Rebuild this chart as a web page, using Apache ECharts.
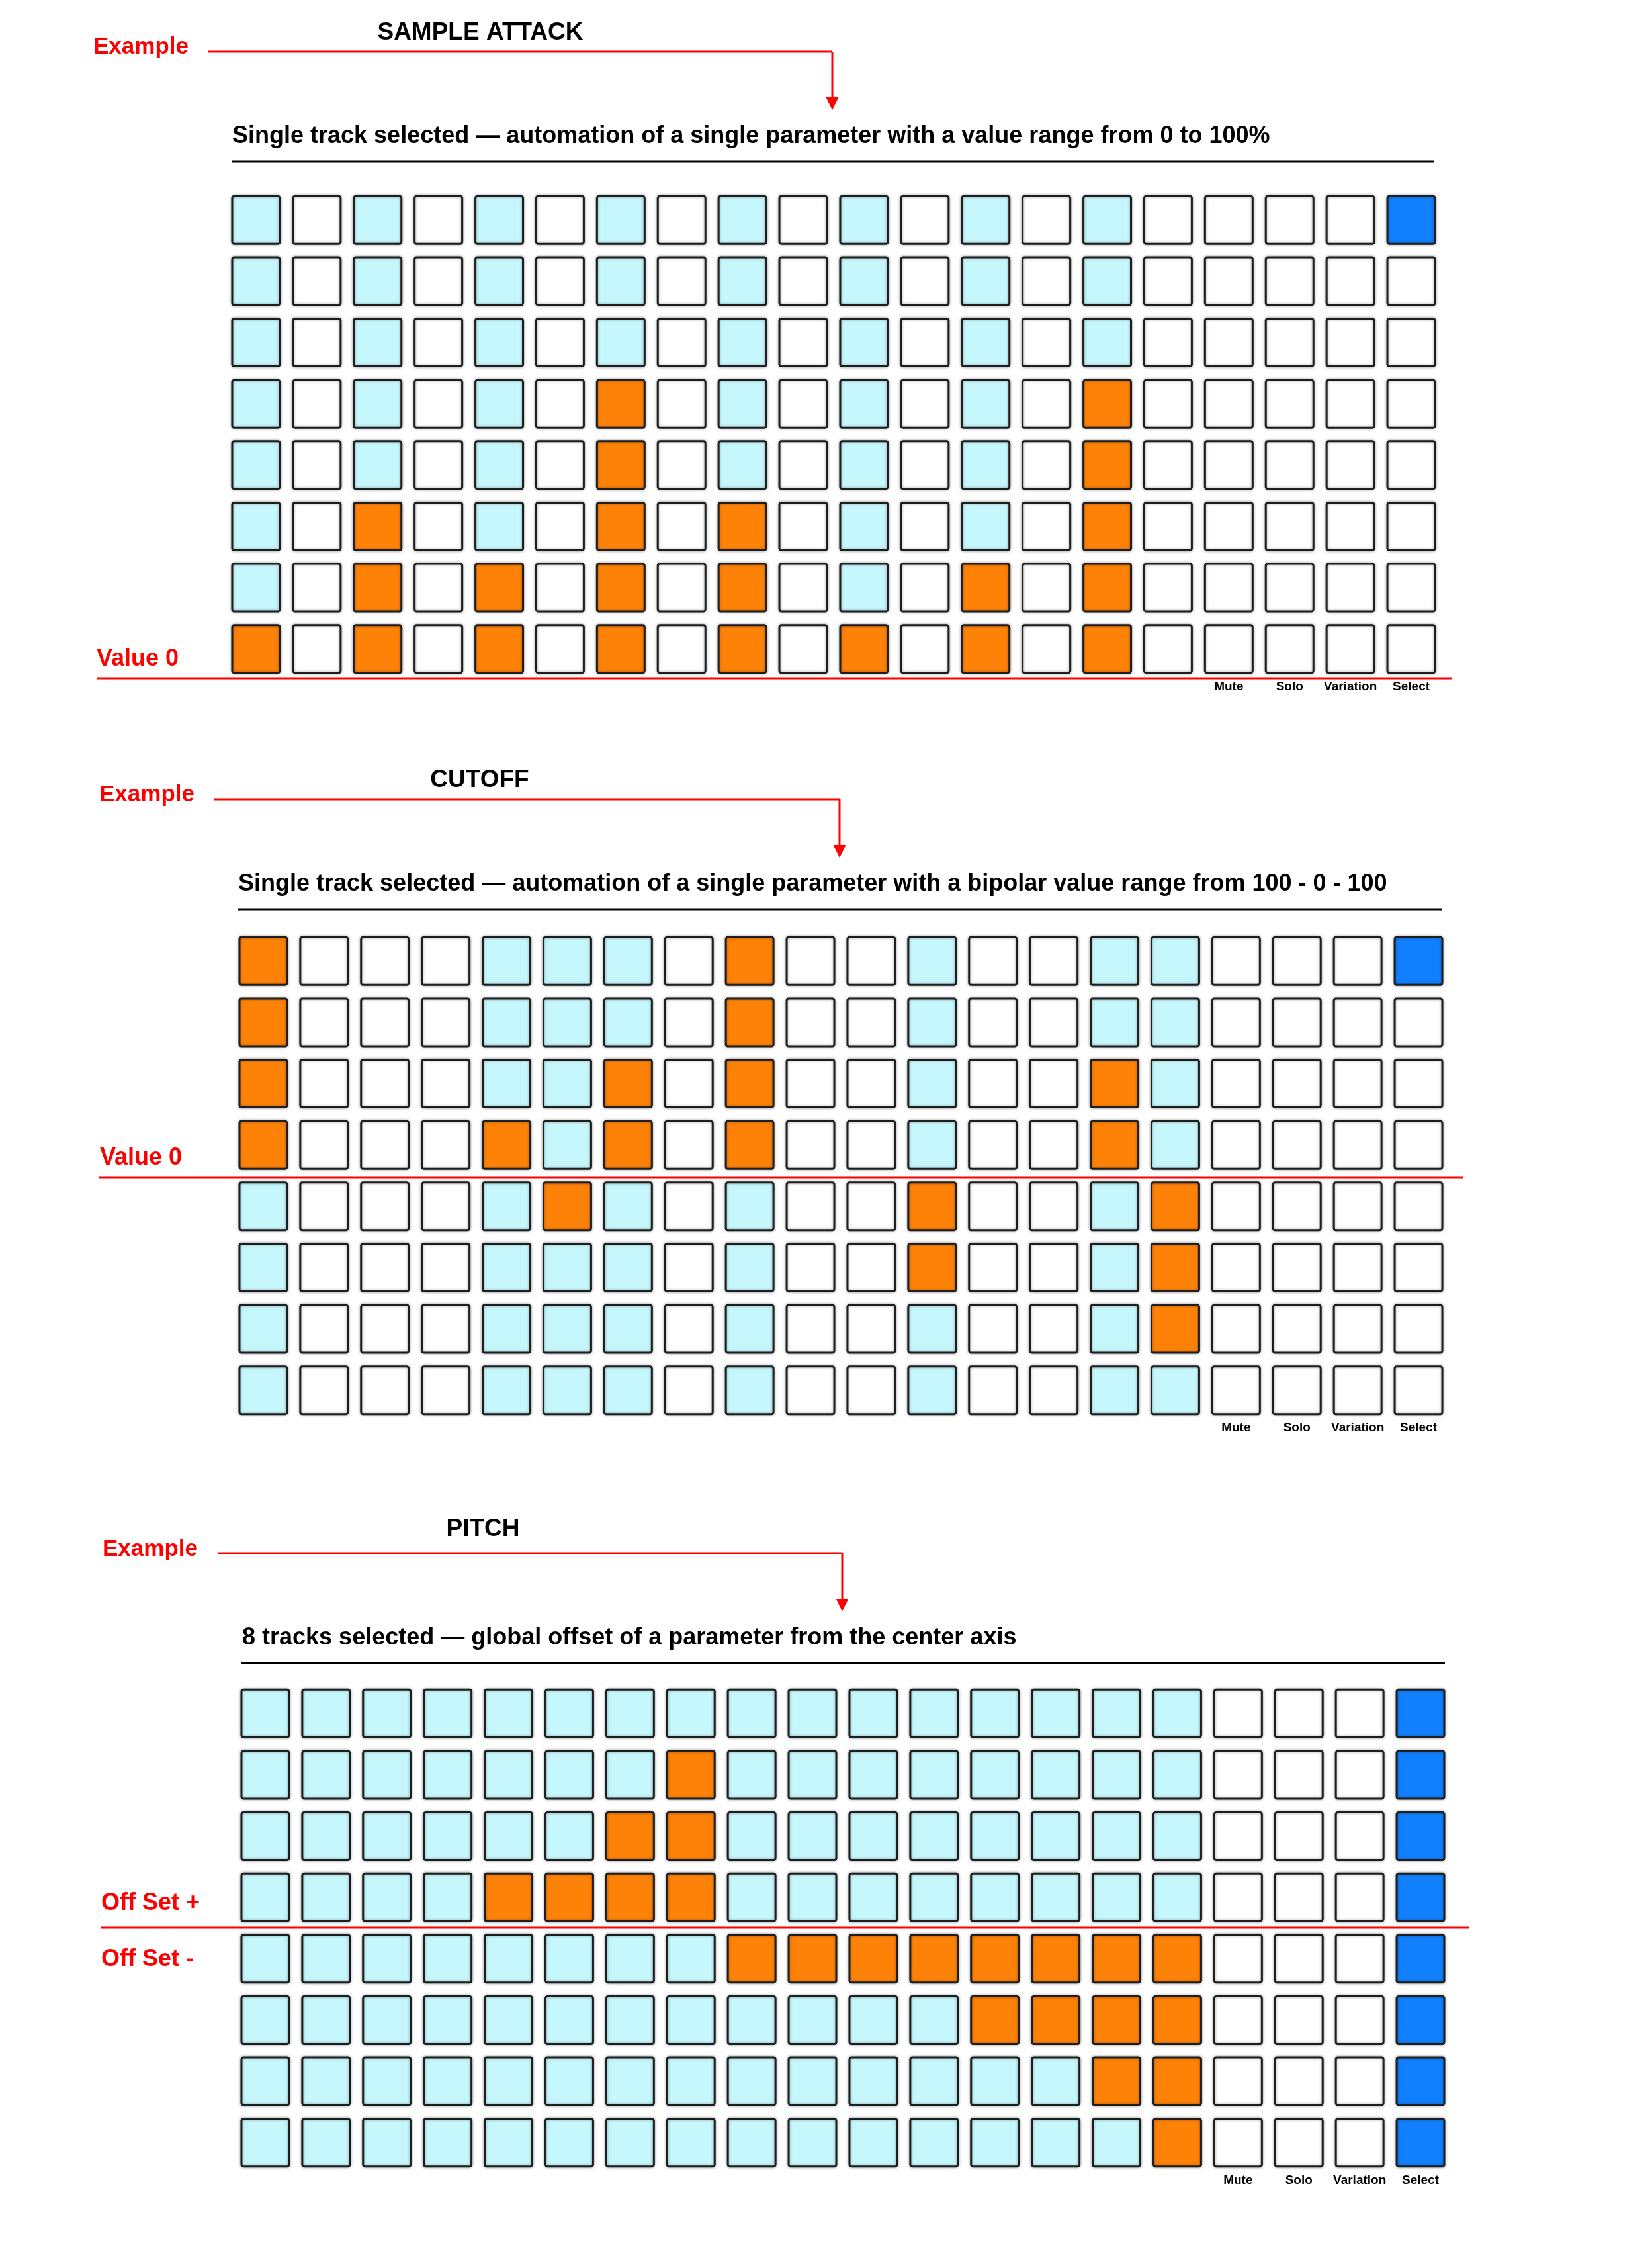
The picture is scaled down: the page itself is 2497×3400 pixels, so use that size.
<!DOCTYPE html>
<html>
<head>
<meta charset="utf-8">
<title>Step sequencer automation examples</title>
<script src="https://cdn.jsdelivr.net/npm/echarts@6/dist/echarts.min.js"></script>
<style>
    html, body { margin: 0; padding: 0; background: #fff; }
    #chart { width: 2497px; height: 3400px; }
</style>
</head>
<body>
<div id="chart"></div>
<script>
// --- data ---
var stepCount = 16;
var trackButtons = ['Mute', 'Solo', 'Variation', 'Select'];
var trackRows = ['1', '2', '3', '4', '5', '6', '7', '8'];

var blockTitles = ['SAMPLE ATTACK', 'CUTOFF', 'PITCH'];
var blockSubtitles = [
    'Single track selected \u2014 automation of a single parameter with a value range from 0 to 100%',
    'Single track selected \u2014 automation of a single parameter with a bipolar value range from 100 - 0 - 100',
    '8 tracks selected \u2014 global offset of a parameter from the center axis'
];
var axisMarks = [['Value 0'], ['Value 0'], ['Off Set +', 'Off Set -']];

// unipolar: number of lit pads counted from the bottom, null = step off
var attackValues = [1, null, 3, null, 2, null, 5, null, 3, null, 1, null, 2, null, 5, null];
// bipolar: + above the centre axis, - below, null = step off
var cutoffValues = [4, null, null, null, 1, -1, 2, null, 4, null, null, -2, null, null, 2, -3];
var pitchOffsets = [0, 0, 0, 0, 1, 1, 2, 3, -1, -1, -1, -1, -2, -2, -3, -4];

// selected tracks (Select column), top row first
var attackSelect = [1, 0, 0, 0, 0, 0, 0, 0];
var cutoffSelect = [1, 0, 0, 0, 0, 0, 0, 0];
var pitchSelect = [1, 1, 1, 1, 1, 1, 1, 1];

// pad states: 0 off, 1 step on, 2 value, 3 selected
var padColors = ['#ffffff', '#c6f7fd', '#ff8208', '#1080ff'];

function buildPads(values, selected, bipolar) {
    var pads = [];
    var rows = trackRows.length;
    for (var r = 0; r < rows; r++) {
        for (var c = 0; c < stepCount; c++) {
            var v = values[c], state = 0;
            if (v !== null) {
                state = 1;
                if (bipolar) {
                    var half = rows / 2;
                    if (r < half && v >= half - r) state = 2;
                    if (r >= half && -v >= r - half + 1) state = 2;
                } else if (rows - 1 - r < v) {
                    state = 2;
                }
            }
            pads.push([c, r, state]);
        }
        for (var b = 0; b < trackButtons.length; b++) {
            var isSelect = b === trackButtons.length - 1 && selected[r];
            pads.push([stepCount + b, r, isSelect ? 3 : 0]);
        }
    }
    return pads;
}

var padSets = [
    buildPads(attackValues, attackSelect, false),
    buildPads(cutoffValues, cutoffSelect, true),
    buildPads(pitchOffsets, pitchSelect, true)
];

var columnNames = [];
for (var i = 0; i < stepCount; i++) columnNames.push('');
columnNames = columnNames.concat(trackButtons);

// --- layout of the three blocks (pixels) ---
var layout = [
    { left: 341, top: 286, exX: 141, exY: 83, lineY: 78, lineX0: 315, arrowX: 1258,
      titleX: 726, titleY: 62, subX: 351, subY: 218, ruleY: 244, ruleX0: 351, ruleX1: 2168,
      redY: 1025, redX0: 146, redX1: 2195, markX: 146, markY: [1008] },
    { left: 352, top: 1406, exX: 150, exY: 1213, lineY: 1208, lineX0: 324, arrowX: 1269,
      titleX: 725, titleY: 1191, subX: 360, subY: 1348, ruleY: 1374, ruleX0: 360, ruleX1: 2180,
      redY: 1779, redX0: 150, redX1: 2212, markX: 151, markY: [1762] },
    { left: 355, top: 2543, exX: 155, exY: 2353, lineY: 2347, lineX0: 330, arrowX: 1273,
      titleX: 730, titleY: 2323, subX: 366, subY: 2487, ruleY: 2513, ruleX0: 364, ruleX1: 2184,
      redY: 2913, redX0: 152, redX1: 2220, markX: 153, markY: [2888, 2973] }
];
var gridW = 1838, gridH = 741;
var FONT = '"Liberation Sans", Arial, Helvetica, sans-serif';
var RED = '#ff0000';

function textAt(text, x, baseline, size, color, align) {
    return {
        type: 'text', z: 10,
        style: {
            text: text, x: x, y: baseline - size * 0.33,
            font: 'bold ' + size + 'px ' + FONT,
            fill: color, align: align || 'left', verticalAlign: 'middle'
        }
    };
}
function lineAt(x1, y1, x2, y2, color, w) {
    return { type: 'line', z: 5, shape: { x1: x1, y1: y1, x2: x2, y2: y2 },
             style: { stroke: color, lineWidth: w } };
}

var graphics = [];
layout.forEach(function (L, k) {
    var tipY = L.subY - 52;
    graphics.push(textAt('Example', L.exX, L.exY, 35, RED));
    graphics.push(textAt(blockTitles[k], L.titleX, L.titleY, 37, '#000', 'center'));
    graphics.push(lineAt(L.lineX0, L.lineY, L.arrowX, L.lineY, RED, 3));
    graphics.push(lineAt(L.arrowX, L.lineY, L.arrowX, tipY - 17, RED, 3));
    graphics.push({ type: 'polygon', z: 5,
        shape: { points: [[L.arrowX - 9.5, tipY - 19], [L.arrowX + 9.5, tipY - 19], [L.arrowX, tipY]] },
        style: { fill: RED } });
    graphics.push(textAt(blockSubtitles[k], L.subX, L.subY, 36, '#000'));
    graphics.push(lineAt(L.ruleX0, L.ruleY, L.ruleX1, L.ruleY, '#000', 3));
    graphics.push(lineAt(L.redX0, L.redY, L.redX1, L.redY, RED, 3));
    axisMarks[k].forEach(function (m, j) {
        graphics.push(textAt(m, L.markX, L.markY[j], 36, RED));
    });
});

function renderPad(params, api) {
    var c = api.coord([api.value(0), api.value(1)]);
    var s = api.size([1, 1]);
    var w = s[0] * 0.783, h = s[1] * 0.778;
    return {
        type: 'rect',
        shape: { x: c[0] - w / 2, y: c[1] - h / 2, width: w, height: h, r: 3 },
        style: {
            fill: padColors[api.value(2)],
            stroke: '#1e1e1e',
            lineWidth: 3,
            shadowBlur: 4,
            shadowColor: 'rgba(0,0,0,0.35)'
        }
    };
}

var grids = [], xAxes = [], yAxes = [], series = [];
layout.forEach(function (L, k) {
    grids.push({ left: L.left, top: L.top, width: gridW, height: gridH });
    xAxes.push({
        type: 'category', gridIndex: k, data: columnNames, position: 'bottom',
        axisLine: { show: false }, axisTick: { show: false }, splitLine: { show: false },
        axisLabel: { interval: 0, margin: 1, color: '#000', fontFamily: FONT,
                     fontWeight: 'bold', fontSize: 19, lineHeight: 19, verticalAlign: 'top' }
    });
    yAxes.push({
        type: 'category', gridIndex: k, data: trackRows, inverse: true,
        axisLine: { show: false }, axisTick: { show: false }, axisLabel: { show: false },
        splitLine: { show: false }
    });
    series.push({
        type: 'custom', xAxisIndex: k, yAxisIndex: k,
        renderItem: renderPad, data: padSets[k], silent: true
    });
});

var chart = echarts.init(document.getElementById('chart'), null, { renderer: 'canvas' });
chart.setOption({
    backgroundColor: '#ffffff',
    animation: false,
    grid: grids,
    xAxis: xAxes,
    yAxis: yAxes,
    series: series,
    graphic: graphics
});
</script>
</body>
</html>
